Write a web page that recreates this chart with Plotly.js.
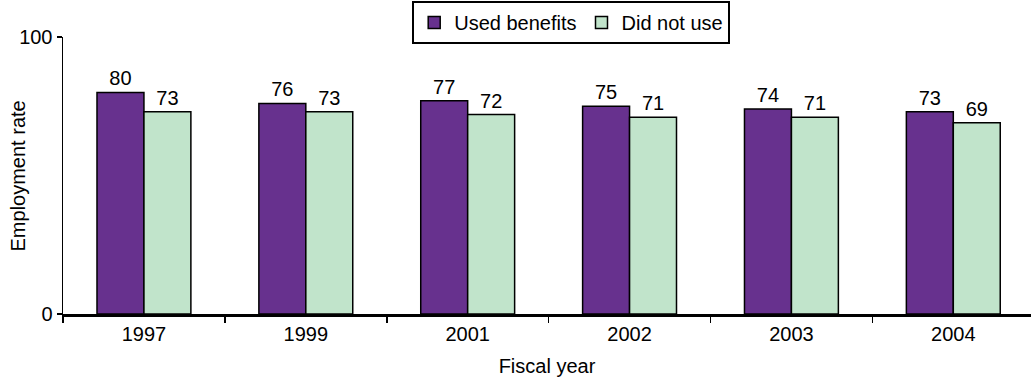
<!DOCTYPE html>
<html>
<head>
<meta charset="utf-8">
<script src="https://cdn.plot.ly/plotly-3.0.1.min.js"></script>
<style>
  html, body { margin: 0; padding: 0; background: #fff; }
  #chart { width: 1031px; height: 383px; }
</style>
</head>
<body>
<div id="chart"></div>
<script>
// Employment rate by fiscal year, split by benefit use
const years = ["1997", "1999", "2001", "2002", "2003", "2004"];
const usedBenefits = [80, 76, 77, 75, 74, 73];
const didNotUse = [73, 73, 72, 71, 71, 69];

const font = "Liberation Sans, Arial, sans-serif";
const fs = 20;

function barTrace(name, values, color) {
  return {
    type: "bar",
    name: name,
    x: years,
    y: values,
    text: values.map(String),
    textposition: "outside",
    textfont: { family: font, size: fs, color: "#000" },
    cliponaxis: false,
    marker: { color: color, line: { color: "#000", width: 1.5 } },
    hoverinfo: "x+y+name"
  };
}

const data = [
  barTrace("Used benefits", usedBenefits, "#67318E"),
  barTrace("Did not use", didNotUse, "#C1E4CB")
];

const layout = {
  width: 1031,
  height: 383,
  margin: { l: 63, r: 0, t: 37, b: 69 },
  paper_bgcolor: "#fff",
  plot_bgcolor: "#fff",
  font: { family: font, size: fs, color: "#000" },
  barmode: "group",
  bargap: 0.42,
  bargroupgap: 0,
  showlegend: true,
  legend: {
    orientation: "h",
    x: 0.525,
    xanchor: "center",
    y: 1.13,
    yanchor: "top",
    bordercolor: "#000",
    borderwidth: 2,
    bgcolor: "#fff",
    font: { family: font, size: fs, color: "#000" },
    itemwidth: 30,
    tracegroupgap: 0,
    traceorder: "normal"
  },
  xaxis: {
    type: "category",
    range: [-0.5, 5.48],
    showline: true,
    linecolor: "#000",
    linewidth: 2.5,
    ticks: "outside",
    tickson: "boundaries",
    ticklen: 6,
    tickcolor: "#000",
    tickwidth: 1.5,
    showgrid: false,
    zeroline: false,
    tickfont: { family: font, size: fs, color: "#000" },
    title: { text: "Fiscal year", font: { family: font, size: fs, color: "#000" }, standoff: 16 }
  },
  yaxis: {
    range: [0, 100],
    tickvals: [0, 100],
    ticktext: ["0", "100"],
    showline: true,
    linecolor: "#000",
    linewidth: 1.5,
    ticks: "outside",
    ticklen: 5,
    tickcolor: "#000",
    tickwidth: 1.5,
    showgrid: false,
    zeroline: false,
    tickfont: { family: font, size: fs, color: "#000" }
  },
  annotations: [{
    text: "Employment rate",
    xref: "paper",
    yref: "paper",
    x: -0.0465,
    y: 0.5,
    xanchor: "center",
    yanchor: "middle",
    textangle: -90,
    showarrow: false,
    font: { family: font, size: fs, color: "#000" }
  }]
};

Plotly.newPlot("chart", data, layout, { displayModeBar: false, staticPlot: true });
</script>
</body>
</html>
